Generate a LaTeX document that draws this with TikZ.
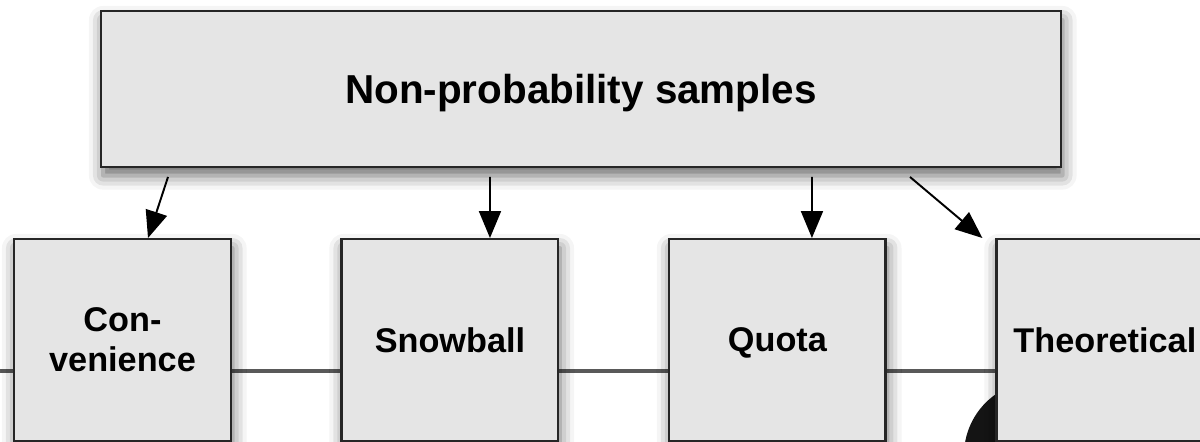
\documentclass[tikz,border=0pt]{standalone}
\usepackage{fontspec}
\setsansfont{Liberation Sans}
\usetikzlibrary{arrows.meta,positioning,shadows.blur}

\begin{document}
\begin{tikzpicture}[
  >={Triangle[length=0.54cm,width=0.44cm]},
  box/.style={draw=black!85,line width=1.4pt,fill=black!10,align=center,
    font=\sffamily\bfseries\fontsize{19.5}{22.8}\selectfont,
    minimum width=4.33cm,minimum height=4.03cm,inner sep=0pt,
    text depth=0pt,
    blur shadow={shadow xshift=1pt,shadow yshift=-5pt,
      shadow blur radius=8pt,shadow opacity=60}},
  link/.style={->,line width=1.1pt,black},
  rail/.style={black!65,line width=2.2pt}
]
  \path[use as bounding box,clip] (0,0) rectangle (24,-8.84);

  % things behind the boxes
  \coordinate (railL) at (-0.2,-7.42);
  \coordinate (railR) at (24.2,-7.42);
  \draw[rail] (railL) -- (railR);
  \fill[black!92] (20.76,-9.1) circle (1.48cm);

  \node[box,minimum width=19.19cm,minimum height=3.11cm,text height=16pt,
    font=\sffamily\bfseries\fontsize{23}{26}\selectfont] (nonprob) at (11.62,-1.78)
    {Non-probability samples};

  \node[box] (conv) at (2.45,-6.8) {Con-\\venience};
  \node[box,right=2.17cm of conv] (snow) {Snowball};
  \node[box,right=2.17cm of snow] (quota) {Quota};
  \node[box,right=2.17cm of quota] (theo) {Theoretical};

  \draw[link] ([xshift=-8.26cm,yshift=-0.18cm]nonprob.south) -- ([xshift=0.51cm]conv.north);
  \draw[link] ([xshift=-1.82cm,yshift=-0.18cm]nonprob.south) -- ([xshift=0.8cm]snow.north);
  \draw[link] ([xshift=4.62cm,yshift=-0.18cm]nonprob.south) -- ([xshift=0.69cm]quota.north);
  \draw[link] ([xshift=6.58cm,yshift=-0.18cm]nonprob.south) -- ([xshift=-0.26cm]theo.north west);
\end{tikzpicture}
\end{document}
